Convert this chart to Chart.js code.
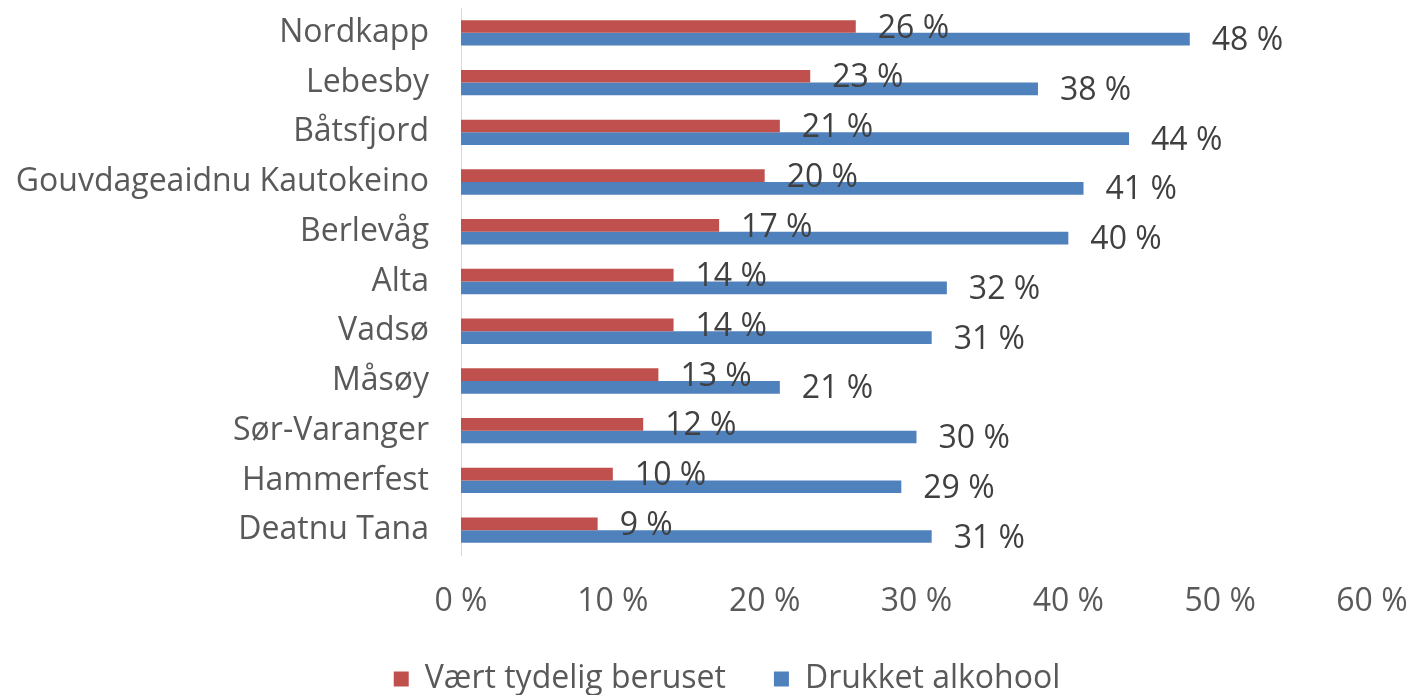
<!DOCTYPE html>
<html><head><meta charset="utf-8">
<script src="https://cdn.jsdelivr.net/npm/chart.js@4/dist/chart.umd.min.js"></script>
<style>html,body{margin:0;padding:0;background:#fff}#wrap{width:1412px;height:695px;position:relative}</style>
</head><body><div id="wrap"><canvas id="c" width="1412" height="695"></canvas></div>
<script>
const categories = ["Nordkapp","Lebesby","Båtsfjord","Gouvdageaidnu Kautokeino","Berlevåg","Alta","Vadsø","Måsøy","Sør-Varanger","Hammerfest","Deatnu Tana"];
const beruset = [26,23,21,20,17,14,14,13,12,10,9];
const alkohol = [48,38,44,41,40,32,31,21,30,29,31];
const seriesNames = ["Vært tydelig beruset","Drukket alkohool"];
const FONT = "'Open Sans',sans-serif";

const labelPlugin = {
  id:'labels',
  afterLayout(chart){
    const lg = chart.legend;
    if (lg) { lg.left += 41; lg.right += 41; }
  },
  afterDatasetsDraw(chart){
    const ctx = chart.ctx;
    ctx.save();
    ctx.font = "32px " + FONT;
    ctx.fillStyle = "#404040";
    ctx.textBaseline = "middle";
    ctx.textAlign = "left";
    chart.data.datasets.forEach((ds,i)=>{
      const meta = chart.getDatasetMeta(i);
      meta.data.forEach((bar,j)=>{
        ctx.fillText(ds.data[j] + " %", bar.x + 22, bar.y + 2);
      });
    });
    ctx.restore();
  }
};

new Chart(document.getElementById('c'), {
  type:'bar',
  data:{labels:categories, datasets:[
    {label:seriesNames[0], data:beruset, backgroundColor:'#C0504D', barPercentage:1, categoryPercentage:0.51},
    {label:seriesNames[1], data:alkohol, backgroundColor:'#4F81BD', barPercentage:1, categoryPercentage:0.51}
  ]},
  options:{
    indexAxis:'y', responsive:false, animation:false,
    layout:{padding:{top:8,right:40,bottom:-10,left:0}},
    plugins:{
      legend:{position:'bottom', labels:{font:{size:32,family:FONT}, color:'#595959', boxWidth:15, boxHeight:15, padding:48}},
      tooltip:{enabled:false}
    },
    scales:{
      x:{min:0,max:60, grid:{display:false, drawTicks:false}, border:{display:false},
         ticks:{stepSize:10, padding:28, color:'#595959', font:{size:32,family:FONT}, callback:v=>v+" %"},
         afterFit(s){ s.height = 60; s.paddingLeft = 0; s.paddingRight = 0; }},
      y:{grid:{display:false, drawTicks:false}, border:{display:true,color:'#D9D9D9',width:1},
         ticks:{padding:32, color:'#595959', font:{size:32,family:FONT}},
         afterFit(s){ s.width = 461; s.paddingTop = 0; s.paddingBottom = 0; }}
    }
  },
  plugins:[labelPlugin]
});
</script></body></html>
